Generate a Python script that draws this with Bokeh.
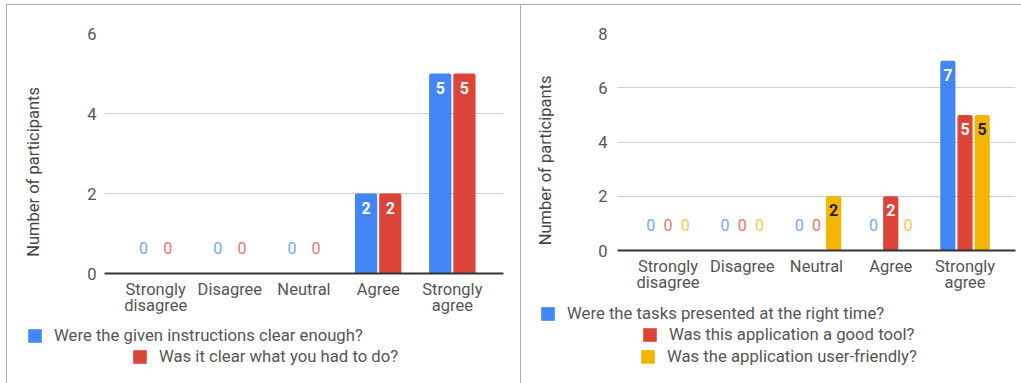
from bokeh.plotting import figure
from bokeh.layouts import row, column
from bokeh.models import (ColumnDataSource, FixedTicker, Legend, LegendItem,
                          Range1d, FactorRange)
from bokeh.transform import dodge
from bokeh.core.properties import value
from bokeh.embed import file_html
from bokeh.resources import INLINE

# Likert answer categories (two-line where the axis wraps them)
categories = ["Strongly\ndisagree", "Disagree", "Neutral", "Agree", "Strongly\nagree"]

# Left survey block: clarity of the session
instructions_clear = [0, 0, 0, 2, 5]
task_clear = [0, 0, 0, 2, 5]

# Right survey block: opinions about the application
tasks_timing = [0, 0, 0, 0, 7]
good_tool = [0, 0, 0, 2, 5]
user_friendly = [0, 0, 2, 0, 5]

left_ticks = [0, 2, 4, 6]
right_ticks = [0, 2, 4, 6, 8]

BLUE, RED, YELLOW = "#4285F4", "#DB4437", "#F4B400"
ZERO_COLORS = {BLUE: "#74A6F7", RED: "#E6766C", YELLOW: "#F7C843"}
INSIDE_COLORS = {BLUE: "#FFFFFF", RED: "#FFFFFF", YELLOW: "#222222"}
FONT = "Roboto"
FONT_SIZE = "16.5px"
TEXT_GREY = "#555555"
BORDER = "1px solid #ababab"
# trailing no-break spaces nudge the rotated axis title a little lower
Y_TITLE = "Number of participants" + "\u00a0" * 9


def series_source(vals, color):
    return ColumnDataSource(dict(
        cat=categories,
        top=vals,
        label=[str(v) for v in vals],
        tcolor=[ZERO_COLORS[color] if v == 0 else INSIDE_COLORS[color] for v in vals],
        yoff=[-26 if v == 0 else 14 for v in vals],
        fstyle=["normal" if v == 0 else "bold" for v in vals],
    ))


def make_chart(series, sources, ymax, ticks, frame_w, frame_h, border_left,
               border_right, bar_width, step, pad, tick_standoff, title_standoff,
               margin):
    p = figure(x_range=FactorRange(*categories, range_padding=pad,
                                   range_padding_units="absolute"),
               y_range=Range1d(0, ymax),
               frame_width=frame_w, frame_height=frame_h,
               min_border_left=border_left, min_border_right=border_right,
               min_border_top=28, min_border_bottom=48,
               output_backend="svg", toolbar_location=None, tools="")
    p.margin = margin
    p.styles = {"border-left": BORDER, "border-top": BORDER}
    p.outline_line_color = None
    p.background_fill_color = "white"

    n = len(series)
    offsets = [(i - (n - 1) / 2) * step for i in range(n)]

    for (name, vals, color), src, off in zip(series, sources, offsets):
        p.vbar(x=dodge("cat", off, range=p.x_range), top="top", bottom=0,
               width=bar_width, source=src, fill_color=color,
               line_color=None, border_radius=(2, 2, 0, 0))
        # value labels: inside the bar top, or just above the baseline for zeros
        p.text(x=dodge("cat", off, range=p.x_range), y="top", text="label",
               source=src, text_color="tcolor", y_offset="yoff",
               text_font=value(FONT), text_font_size="16px",
               text_font_style="fstyle", text_align="center",
               text_baseline="middle")

    p.xgrid.grid_line_color = None
    p.ygrid.grid_line_color = "#cccccc"
    p.ygrid.ticker = FixedTicker(ticks=ticks)

    xa = p.xaxis[0]
    xa.axis_line_color = "#333333"
    xa.axis_line_width = 2
    xa.major_tick_line_color = None
    xa.minor_tick_line_color = None
    xa.major_label_standoff = 0
    xa.major_label_text_font = FONT
    xa.major_label_text_font_size = FONT_SIZE
    xa.major_label_text_color = TEXT_GREY
    xa.major_label_text_line_height = 0.88

    ya = p.yaxis[0]
    ya.ticker = FixedTicker(ticks=ticks)
    ya.axis_line_color = None
    ya.major_tick_line_color = None
    ya.minor_tick_line_color = None
    ya.major_label_standoff = tick_standoff
    ya.major_label_text_font = FONT
    ya.major_label_text_font_size = FONT_SIZE
    ya.major_label_text_color = TEXT_GREY
    ya.axis_label = Y_TITLE
    ya.axis_label_text_font = FONT
    ya.axis_label_text_font_size = FONT_SIZE
    ya.axis_label_text_font_style = "normal"
    ya.axis_label_text_color = "#444444"
    ya.axis_label_standoff = title_standoff
    return p


def make_key(series, sources, width, height, spots, margin):
    """Series key on its own strip under a chart, one centred row per series."""
    k = figure(width=width, height=height,
               x_range=FactorRange(*categories), y_range=Range1d(0, 10),
               min_border=0, x_axis_location=None, y_axis_location=None,
               output_backend="svg", toolbar_location=None, tools="")
    k.margin = margin
    k.styles = {"border-left": BORDER}
    k.outline_line_color = None
    k.grid.visible = False
    for (name, vals, color), src, (lx, ly) in zip(series, sources, spots):
        # hidden copy of the series' bars, only used for the key swatch
        swatch = k.vbar(x="cat", top="top", width=0.3, source=src,
                        fill_color=color, line_color=None, border_radius=2,
                        visible=False)
        leg = Legend(items=[LegendItem(label=name, renderers=[swatch])],
                     location=(lx, ly), padding=0, margin=0, spacing=0,
                     border_line_color=None, background_fill_alpha=0,
                     inactive_fill_alpha=0,
                     glyph_width=17, glyph_height=17, label_height=17,
                     label_standoff=11, label_text_font=FONT,
                     label_text_font_size="16.7px", label_text_color=TEXT_GREY)
        k.add_layout(leg)
    return k


left_series = [("Were the given instructions clear enough?", instructions_clear, BLUE),
               ("Was it clear what you had to do?", task_clear, RED)]
right_series = [("Were the tasks presented at the right time?", tasks_timing, BLUE),
                ("Was this application a good tool?", good_tool, RED),
                ("Was the application user-friendly?", user_friendly, YELLOW)]

left_sources = [series_source(v, c) for _, v, c in left_series]
right_sources = [series_source(v, c) for _, v, c in right_series]

left = make_chart(left_series, left_sources, ymax=6, ticks=left_ticks,
                  frame_w=398, frame_h=239, border_left=97, border_right=18,
                  bar_width=0.30, step=0.326, pad=0.19, tick_standoff=2,
                  title_standoff=41, margin=(4, 0, 0, 6))
left_key = make_key(left_series, left_sources, width=513, height=63,
                    spots=[(19, 38), (124, 17)], margin=(0, 0, 0, 6))

right = make_chart(right_series, right_sources, ymax=8, ticks=right_ticks,
                   frame_w=397, frame_h=216, border_left=96, border_right=7,
                   bar_width=0.204, step=0.231, pad=0.18, tick_standoff=4,
                   title_standoff=40, margin=(4, 0, 0, 0))
right_key = make_key(right_series, right_sources, width=500, height=86,
                     spots=[(18, 60), (120, 39), (118, 17)], margin=(0, 0, 0, 0))

layout = row(column(left, row(left_key)), column(right, row(right_key)))
open("out.html", "w").write(file_html(layout, INLINE))
